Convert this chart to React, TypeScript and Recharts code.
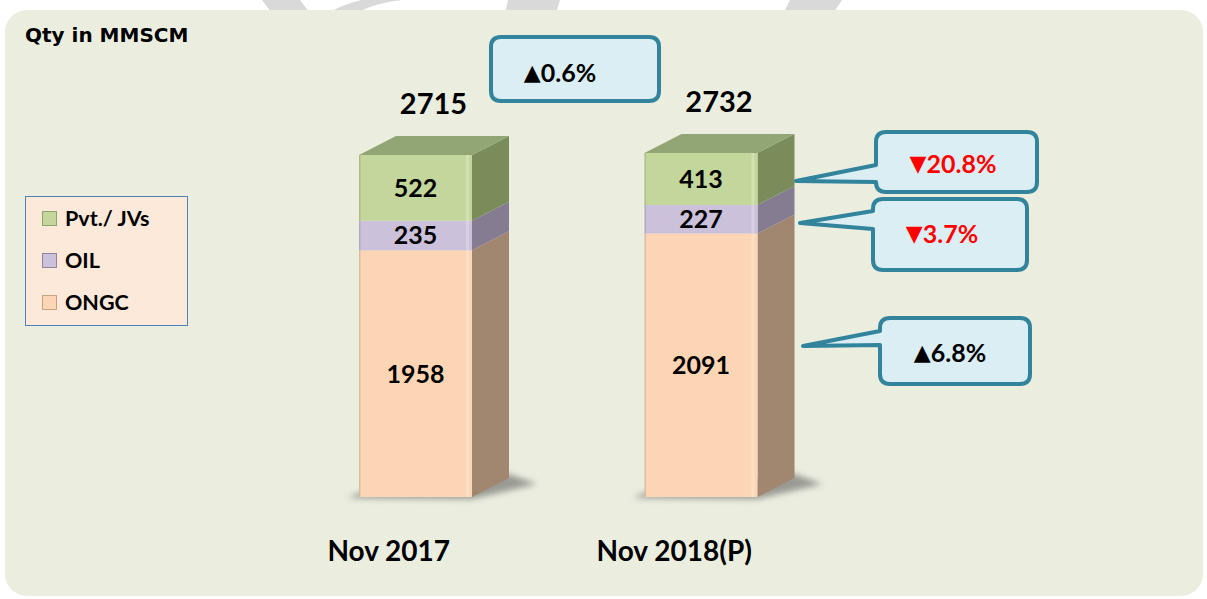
import { Bar, BarChart, LabelList, XAxis, YAxis } from 'recharts';

// values in MMSCM
const categories = ['Nov 2017', 'Nov 2018(P)'];
const ongc = [1958, 2091];
const oil = [235, 227];
const pvt = [522, 413];
const totals = [2715, 2732];

const totalChange = '0.6%';
const changes = [
    { label: '20.8%', up: false }, // Pvt./ JVs
    { label: '3.7%', up: false }, // OIL
    { label: '6.8%', up: true }, // ONGC
];

const data = categories.map((name, i) => ({
    name,
    ongc: ongc[i],
    oil: oil[i],
    pvt: pvt[i],
    total: totals[i],
}));

const DX = 37;
const DY = -19;
const FONT = 'Lato, "Open Sans", sans-serif';

const makeBox = (front: string, side: string, top?: string, shadow?: boolean) => (props: any) => {
    const { x, y, width, height, index } = props;
    const r = x + width;
    const b = y + height;
    return (
        <g>
            {shadow && (
                <>
                    <defs>
                        <filter id={`sh${index}`} x="-50%" y="-50%" width="200%" height="200%">
                            <feGaussianBlur stdDeviation={3} />
                        </filter>
                    </defs>
                    <polygon
                        points={`${x - 12},${b + 1} ${r},${b + 2} ${r + DX + 28},${b + DY + 6} ${r + DX},${b + DY - 4} ${x},${b - 4}`}
                        fill="#555"
                        opacity={0.55}
                        filter={`url(#sh${index})`}
                    />
                </>
            )}
            <polygon
                points={`${r},${y} ${r + DX},${y + DY} ${r + DX},${b + DY} ${r},${b}`}
                fill={side}
            />
            <rect x={x} y={y} width={width} height={height} fill={front} />
            <rect x={r - 6} y={y} width={3} height={height} fill="#ffffff" opacity={0.25} />
            <rect x={x} y={y} width={1.5} height={height} fill="#000" opacity={0.12} />
            {top && (
                <polygon
                    points={`${x},${y} ${x + DX},${y + DY} ${r + DX},${y + DY} ${r},${y}`}
                    fill={top}
                />
            )}
        </g>
    );
};

const CategoryTick = (props: any) => {
    const { x, y, payload } = props;
    return (
        <text x={x - 27} y={y + 56} textAnchor="middle" fontFamily={FONT} fontWeight="bold" fontSize={28} fill="#000">
            {payload.value}
        </text>
    );
};

const TotalLabel = (props: any) => {
    const { x, y, width, value } = props;
    return (
        <text
            x={x + width / 2 + 18}
            y={y - 52}
            textAnchor="middle"
            dominantBaseline="central"
            fontFamily={FONT}
            fontWeight="bold"
            fontSize={29}
            fill="#000"
        >
            {value}
        </text>
    );
};

function calloutPath(x: number, y: number, w: number, h: number, r: number, tail?: { tx: number; ty: number; y1: number; y2: number }) {
    let d = `M ${x + r} ${y} L ${x + w - r} ${y} Q ${x + w} ${y} ${x + w} ${y + r} L ${x + w} ${y + h - r} Q ${x + w} ${y + h} ${x + w - r} ${y + h} L ${x + r} ${y + h} Q ${x} ${y + h} ${x} ${y + h - r}`;
    if (tail) {
        d += ` L ${x} ${tail.y2} L ${tail.tx} ${tail.ty} L ${x} ${tail.y1}`;
    }
    d += ` L ${x} ${y + r} Q ${x} ${y} ${x + r} ${y} Z`;
    return d;
}

const boxes = [
    { x: 876, y: 132, w: 161, h: 60, tail: { tx: 796, ty: 181, y1: 165, y2: 182 }, cx: 953, cy: 163 },
    { x: 873, y: 199, w: 154, h: 71, tail: { tx: 800, ty: 223, y1: 211, y2: 229 }, cx: 942, cy: 233 },
    { x: 880, y: 318, w: 150, h: 66, tail: { tx: 803, ty: 346, y1: 331, y2: 345 }, cx: 950, cy: 352 },
];

const legendItems = [
    { name: 'Pvt./ JVs', color: '#c3d69b', edge: '#8fa46a' },
    { name: 'OIL', color: '#ccc1da', edge: '#8f84a3' },
    { name: 'ONGC', color: '#fcd5b5', edge: '#c9a27e' },
];

const Arrow = ({ up }: { up: boolean }) => (
    <tspan fontFamily='"DejaVu Sans", sans-serif' fontSize={22}>
        {up ? '▲' : '▼'}
    </tspan>
);

export default function App() {
    return (
        <div style={{ position: 'absolute', left: 0, top: 0, width: 1207, height: 599, background: '#fff', overflow: 'hidden' }}>
            <svg width={1207} height={40} style={{ position: 'absolute', left: 0, top: 0 }}>
                <polygon points="262,0 300,0 330,40 292,40" fill="#d9d9d9" />
                <path d="M 330 12 Q 370 -10 420 0 L 440 0 Q 380 -5 345 20 Z" fill="#d9d9d9" />
                <polygon points="508,0 560,0 548,40 500,40" fill="#d9d9d9" />
                <polygon points="790,0 842,0 815,40 770,40" fill="#d9d9d9" />
            </svg>
            <div
                style={{
                    position: 'absolute',
                    left: 5,
                    top: 10,
                    width: 1198,
                    height: 586,
                    borderRadius: 22,
                    background: '#ebeedf',
                }}
            />
            <div
                style={{
                    position: 'absolute',
                    left: 25,
                    top: 23,
                    fontFamily: '"DejaVu Sans", sans-serif',
                    fontWeight: 'bold',
                    fontSize: 20,
                    color: '#000',
                }}
            >
                Qty in MMSCM
            </div>

            <div
                style={{
                    position: 'absolute',
                    left: 25,
                    top: 196,
                    width: 163,
                    height: 130,
                    border: '1.5px solid #4f81bd',
                    background: '#fde9d9',
                    boxSizing: 'border-box',
                }}
            >
                {legendItems.map((it, i) => (
                    <div
                        key={it.name}
                        style={{
                            position: 'absolute',
                            left: 16,
                            top: 7 + i * 42,
                            height: 28,
                            display: 'flex',
                            alignItems: 'center',
                            fontFamily: FONT,
                            fontWeight: 'bold',
                            fontSize: 21.5,
                            color: '#000',
                        }}
                    >
                        <span
                            style={{
                                display: 'inline-block',
                                width: 15,
                                height: 15,
                                marginRight: 8,
                                background: it.color,
                                border: `1px solid ${it.edge}`,
                                boxSizing: 'border-box',
                            }}
                        />
                        {it.name}
                    </div>
                ))}
            </div>

            <div style={{ position: 'absolute', left: 0, top: 0 }}>
                <BarChart
                    width={1207}
                    height={599}
                    data={data}
                    margin={{ top: 119, right: 363, left: 273, bottom: 0 }}
                    barSize={113}
                >
                    <YAxis hide domain={[0, 3000]} />
                    <XAxis dataKey="name" axisLine={false} tickLine={false} height={102} tick={<CategoryTick />} interval={0} />
                    <Bar dataKey="ongc" stackId="a" isAnimationActive={false} shape={makeBox('#fcd5b5', '#a18670', undefined, true)}>
                        <LabelList dataKey="ongc" position="center" fill="#000" fontFamily={FONT} fontWeight="bold" fontSize={25} />
                    </Bar>
                    <Bar dataKey="oil" stackId="a" isAnimationActive={false} shape={makeBox('#ccc1da', '#857c92')}>
                        <LabelList dataKey="oil" position="center" fill="#000" fontFamily={FONT} fontWeight="bold" fontSize={25} />
                    </Bar>
                    <Bar dataKey="pvt" stackId="a" isAnimationActive={false} shape={makeBox('#c3d69b', '#7b8c5b', '#91a674')}>
                        <LabelList dataKey="pvt" position="center" fill="#000" fontFamily={FONT} fontWeight="bold" fontSize={25} />
                        <LabelList dataKey="total" content={<TotalLabel />} />
                    </Bar>
                </BarChart>
            </div>

            <svg width={1207} height={599} style={{ position: 'absolute', left: 0, top: 0, pointerEvents: 'none' }}>
                <path d={calloutPath(491, 37, 168, 64, 10)} fill="#daeef3" stroke="#31849b" strokeWidth={4} />
                <text x={560} y={72} textAnchor="middle" dominantBaseline="central" fontFamily={FONT} fontWeight="bold" fontSize={25} fill="#000">
                    <Arrow up />
                    {totalChange}
                </text>
                {boxes.map((b, i) => (
                    <g key={i}>
                        <path d={calloutPath(b.x, b.y, b.w, b.h, 10, b.tail)} fill="#daeef3" stroke="#31849b" strokeWidth={4} strokeLinejoin="round" />
                        <text
                            x={b.cx}
                            y={b.cy}
                            textAnchor="middle"
                            dominantBaseline="central"
                            fontFamily={FONT}
                            fontWeight="bold"
                            fontSize={25}
                            fill={changes[i].up ? '#000' : '#ff0000'}
                        >
                            <Arrow up={changes[i].up} />
                            {changes[i].label}
                        </text>
                    </g>
                ))}
            </svg>
        </div>
    );
}
